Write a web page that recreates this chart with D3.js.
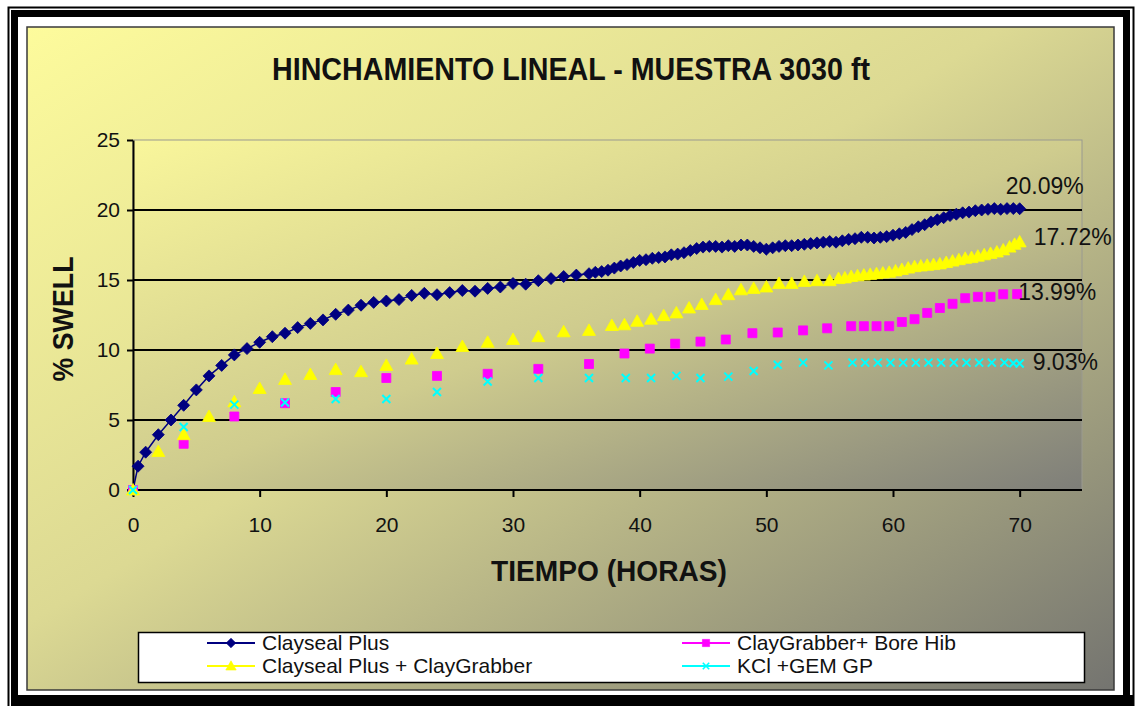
<!DOCTYPE html>
<html>
<head>
<meta charset="utf-8">
<script src="https://cdn.jsdelivr.net/npm/d3@7"></script>
<style>
  body { margin: 0; background: #fff; }
  svg { display: block; font-family: Arial, "Liberation Sans", sans-serif; }
</style>
</head>
<body>
<svg id="chart"></svg>
<script>
// Clayseal Plus
const hoursClayseal = [0, 0.4, 1, 2, 3, 4, 5, 6, 7, 8, 9, 10, 11, 12, 13, 14, 15, 16, 17, 18, 19, 20,
    21, 22, 23, 24, 25, 26, 27, 28, 29, 30, 31, 32, 33, 34, 35, 36,
    36.5, 37, 37.5, 38, 38.5, 39, 39.5, 40, 40.5, 41, 41.5, 42, 42.5, 43, 43.5, 44, 44.5, 45, 45.5,
    46, 46.5, 47, 47.5, 48, 48.5, 49, 49.5, 50, 50.5, 51, 51.5, 52, 52.5, 53, 53.5, 54, 54.5, 55,
    55.5, 56, 56.5, 57, 57.5, 58, 58.5, 59, 59.5, 60, 60.5, 61, 61.5, 62, 62.5, 63, 63.5, 64, 64.5,
    65, 65.5, 66, 66.5, 67, 67.5, 68, 68.5, 69, 69.5, 70];
const swellClayseal = [0, 1.7, 2.7, 3.95, 5.0, 6.05, 7.15, 8.15, 8.9, 9.65, 10.1, 10.55, 10.95, 11.2, 11.6, 11.9, 12.15, 12.55, 12.85, 13.2, 13.4, 13.5,
    13.6, 13.9, 14.05, 13.95, 14.1, 14.25, 14.2, 14.4, 14.5, 14.75, 14.7, 14.95, 15.1, 15.25, 15.35, 15.45,
    15.55, 15.6, 15.7, 15.85, 16.0, 16.1, 16.25, 16.4, 16.45, 16.55, 16.6, 16.65, 16.8, 16.85, 16.95, 17.1, 17.25, 17.35, 17.4,
    17.4, 17.35, 17.45, 17.4, 17.5, 17.5, 17.4, 17.3, 17.2, 17.3, 17.4, 17.45, 17.45, 17.5, 17.55, 17.6, 17.65, 17.7, 17.75,
    17.7, 17.8, 17.9, 17.95, 18.05, 18.05, 18.0, 18.05, 18.1, 18.2, 18.3, 18.4, 18.6, 18.8, 18.95, 19.15, 19.3, 19.45, 19.6,
    19.7, 19.8, 19.85, 19.95, 20.0, 20.05, 20.1, 20.05, 20.1, 20.1, 20.09];

// ClayGrabber+ Bore Hib
const hoursBoreHib = [0, 4, 8, 12, 16, 20, 24, 28, 32, 36, 38.8, 40.8, 42.8, 44.8, 46.8, 48.9, 50.9, 52.9, 54.8,
    56.7, 57.7, 58.7, 59.7, 60.7, 61.7, 62.7, 63.7, 64.7, 65.7, 66.7, 67.7, 68.7, 69.8];
const swellBoreHib = [0, 3.3, 5.25, 6.2, 7.0, 8.0, 8.15, 8.3, 8.65, 9.0, 9.75, 10.1, 10.45, 10.6, 10.75, 11.2, 11.25, 11.4, 11.55,
    11.7, 11.7, 11.7, 11.7, 12.0, 12.2, 12.65, 13.0, 13.3, 13.7, 13.8, 13.8, 13.98, 13.99];

// Clayseal Plus + ClayGrabber
const hoursPlusGrabber = [0, 2, 4, 6, 8, 10, 12, 14, 16, 18, 20, 22, 24, 26, 28, 30, 32, 34, 36, 37.8, 38.8, 39.8, 40.9,
    41.9, 42.9, 43.9, 44.9, 46, 47, 48, 49, 50, 51, 52, 53, 54, 55, 55.7, 56.2, 56.7, 57.2, 57.7, 58.2, 58.7,
    59.2, 59.7, 60.2, 60.7, 61.2, 61.7, 62.2, 62.7, 63.2, 63.7, 64.2, 64.7, 65.2, 65.7, 66.2, 66.7, 67.2, 67.7,
    68.2, 68.7, 69.2, 69.6, 70];
const swellPlusGrabber = [0, 2.75, 3.95, 5.25, 6.3, 7.25, 7.9, 8.25, 8.6, 8.45, 8.9, 9.35, 9.75, 10.25, 10.55, 10.75, 10.95, 11.3, 11.4, 11.75, 11.8, 12.05, 12.2,
    12.45, 12.65, 13.0, 13.25, 13.6, 13.95, 14.3, 14.4, 14.5, 14.75, 14.75, 14.9, 14.95, 14.95, 15.1, 15.15, 15.25, 15.3, 15.35, 15.4, 15.45,
    15.5, 15.55, 15.65, 15.75, 15.85, 15.95, 16.0, 16.05, 16.1, 16.15, 16.25, 16.35, 16.45, 16.55, 16.6, 16.7, 16.8, 16.9,
    17.0, 17.15, 17.35, 17.55, 17.72];

// KCl +GEM GP
const hoursKcl = [0, 4, 8, 12, 16, 20, 24, 28, 32, 36, 38.9, 40.9, 42.9, 44.8, 47, 49, 50.9, 52.9, 54.9,
    56.8, 57.8, 58.8, 59.8, 60.8, 61.8, 62.8, 63.8, 64.8, 65.8, 66.8, 67.8, 68.8, 69.5, 70];
const swellKcl = [0, 4.5, 6.1, 6.25, 6.5, 6.5, 7.0, 7.75, 8.0, 8.0, 8.0, 8.0, 8.15, 8.0, 8.1, 8.5, 8.95, 9.1, 8.9,
    9.1, 9.1, 9.1, 9.1, 9.1, 9.1, 9.1, 9.1, 9.1, 9.1, 9.1, 9.1, 9.1, 9.05, 9.03];

const seriesNames = ["Clayseal Plus", "ClayGrabber+ Bore Hib", "Clayseal Plus + ClayGrabber", "KCl +GEM GP"];
const endLabels = ["20.09%", "13.99%", "17.72%", "9.03%"];
const xTicks = [0, 10, 20, 30, 40, 50, 60, 70];
const yTicks = [0, 5, 10, 15, 20, 25];

const width = 1136;
const height = 706;

const svg = d3.select("#chart")
    .attr("width", width)
    .attr("height", height);

const defs = svg.append("defs");

function addGradient(id, stops) {
    const grad = defs.append("linearGradient")
        .attr("id", id)
        .attr("x1", 0).attr("y1", 0)
        .attr("x2", 1).attr("y2", 1);
    stops.forEach(s => grad.append("stop").attr("offset", s[0]).attr("stop-color", s[1]));
}
addGradient("chartBg", [[0, "#fdfb9c"], [0.45, "#dcd993"], [1, "#747470"]]);
addGradient("plotBg", [[0, "#f9f69b"], [0.5, "#cfcc8e"], [1, "#7e7e79"]]);

// frame around the picture
svg.append("rect")
    .attr("x", 8.5).attr("y", 7.5).attr("width", 1125).attr("height", 710)
    .attr("fill", "none").attr("stroke", "#000").attr("stroke-width", 2);
svg.append("rect")
    .attr("x", 14.5).attr("y", 13.5).attr("width", 1112).attr("height", 685)
    .attr("fill", "#fff").attr("stroke", "#000").attr("stroke-width", 7);
svg.append("rect")
    .attr("x", 11).attr("y", 695).attr("width", 1122).attr("height", 11)
    .attr("fill", "#000");

// chart area
svg.append("rect")
    .attr("x", 27).attr("y", 27).attr("width", 1087).attr("height", 663)
    .attr("fill", "url(#chartBg)").attr("stroke", "#3a3a3a").attr("stroke-width", 1.5);

const plot = { left: 133, right: 1082, top: 140, bottom: 490 };

const x = d3.scaleLinear().domain([0, 75]).range([plot.left, 1083]);
const y = d3.scaleLinear().domain([0, 25]).range([plot.bottom, plot.top]);

svg.append("rect")
    .attr("x", plot.left).attr("y", plot.top)
    .attr("width", plot.right - plot.left).attr("height", plot.bottom - plot.top)
    .attr("fill", "url(#plotBg)").attr("stroke", "#9a9a90").attr("stroke-width", 1);

// gridlines
svg.append("g")
    .selectAll("line")
    .data(yTicks.filter(d => d > 0 && d < 25))
    .enter().append("line")
    .attr("x1", plot.left).attr("x2", plot.right)
    .attr("y1", d => y(d)).attr("y2", d => y(d))
    .attr("stroke", "#000").attr("stroke-width", 2);

// axes
const xAxis = svg.append("g")
    .attr("transform", `translate(0,${plot.bottom})`)
    .call(d3.axisBottom(x).tickValues(xTicks).tickSize(7).tickPadding(20).tickSizeOuter(0));
const yAxis = svg.append("g")
    .attr("transform", `translate(${plot.left},0)`)
    .call(d3.axisLeft(y).tickValues(yTicks).tickSize(6).tickPadding(7).tickSizeOuter(0));

[xAxis, yAxis].forEach(ax => {
    ax.select(".domain").attr("stroke", "#000").attr("stroke-width", 2);
    ax.selectAll(".tick line").attr("stroke", "#000").attr("stroke-width", 2);
    ax.selectAll(".tick text")
        .attr("fill", "#111")
        .style("font-size", "21px")
        .style("font-family", "Arial, 'Liberation Sans', sans-serif");
});
xAxis.select(".domain").attr("d", `M${plot.left},0H${plot.right}`);

// titles
svg.append("text")
    .attr("x", 571).attr("y", 80)
    .attr("text-anchor", "middle")
    .attr("textLength", 598).attr("lengthAdjust", "spacingAndGlyphs")
    .style("font-size", "31px").style("font-weight", "bold")
    .attr("fill", "#111")
    .text("HINCHAMIENTO LINEAL - MUESTRA 3030 ft");

svg.append("text")
    .attr("x", 609).attr("y", 581)
    .attr("text-anchor", "middle")
    .attr("textLength", 236).attr("lengthAdjust", "spacingAndGlyphs")
    .style("font-size", "29px").style("font-weight", "bold")
    .attr("fill", "#111")
    .text("TIEMPO (HORAS)");

svg.append("text")
    .attr("transform", "translate(73,319) rotate(-90)")
    .attr("text-anchor", "middle")
    .attr("textLength", 125).attr("lengthAdjust", "spacingAndGlyphs")
    .style("font-size", "30px").style("font-weight", "bold")
    .attr("fill", "#111")
    .text("% SWELL");

// series
const series = [
    { name: seriesNames[0], hours: hoursClayseal, swell: swellClayseal, color: "#000080", marker: "M0,-6L6,0L0,6L-6,0Z", line: true, filled: true },
    { name: seriesNames[1], hours: hoursBoreHib, swell: swellBoreHib, color: "#ff00ff", marker: "M-4.5,-4.5H4.5V4.5H-4.5Z", line: false, filled: true },
    { name: seriesNames[2], hours: hoursPlusGrabber, swell: swellPlusGrabber, color: "#ffff00", marker: "M0,-6.5L6.5,5H-6.5Z", line: false, filled: true },
    { name: seriesNames[3], hours: hoursKcl, swell: swellKcl, color: "#00ffff", marker: "M-4,-4L4,4M-4,4L4,-4", line: false, filled: false }
];

const lineGen = d3.line()
    .x(d => x(d[0]))
    .y(d => y(d[1]));

series.forEach(s => {
    const pts = s.hours.map((h, i) => [h, s.swell[i]]);
    const g = svg.append("g");
    if (s.line) {
        g.append("path")
            .datum(pts)
            .attr("d", lineGen)
            .attr("fill", "none")
            .attr("stroke", s.color)
            .attr("stroke-width", 1.5);
    }
    g.selectAll("path.mark")
        .data(pts)
        .enter().append("path")
        .attr("class", "mark")
        .attr("d", s.marker)
        .attr("transform", d => `translate(${x(d[0])},${y(d[1])})`)
        .attr("fill", s.filled ? s.color : "none")
        .attr("stroke", s.color)
        .attr("stroke-width", s.filled ? 0.8 : 2);
});

// value labels at the last point of each series
const labelShift = [[-14, -15], [1, 6], [14, 3], [13, 6]];
series.forEach((s, i) => {
    const n = s.hours.length - 1;
    svg.append("text")
        .attr("x", x(s.hours[n]) + labelShift[i][0])
        .attr("y", y(s.swell[n]) + labelShift[i][1])
        .style("font-size", "23px")
        .attr("fill", "#111")
        .text(endLabels[i]);
});

// legend
svg.append("rect")
    .attr("x", 138.5).attr("y", 632.5).attr("width", 946).attr("height", 50)
    .attr("fill", "#fff").attr("stroke", "#000").attr("stroke-width", 1.5);

const legendPos = [[207, 643], [682, 643], [207, 666], [682, 666]];
series.forEach((s, i) => {
    const [lx, ly] = legendPos[i];
    const g = svg.append("g").attr("transform", `translate(${lx},${ly})`);
    g.append("line")
        .attr("x1", 0).attr("x2", 48)
        .attr("stroke", s.color).attr("stroke-width", 2);
    g.append("path")
        .attr("d", s.marker)
        .attr("transform", "translate(24,0) scale(0.8)")
        .attr("fill", s.filled ? s.color : "none")
        .attr("stroke", s.color)
        .attr("stroke-width", s.filled ? 0.8 : 2);
    g.append("text")
        .attr("x", 55).attr("dy", "0.35em")
        .style("font-size", "21px")
        .attr("fill", "#111")
        .text(s.name);
});
</script>
</body>
</html>
